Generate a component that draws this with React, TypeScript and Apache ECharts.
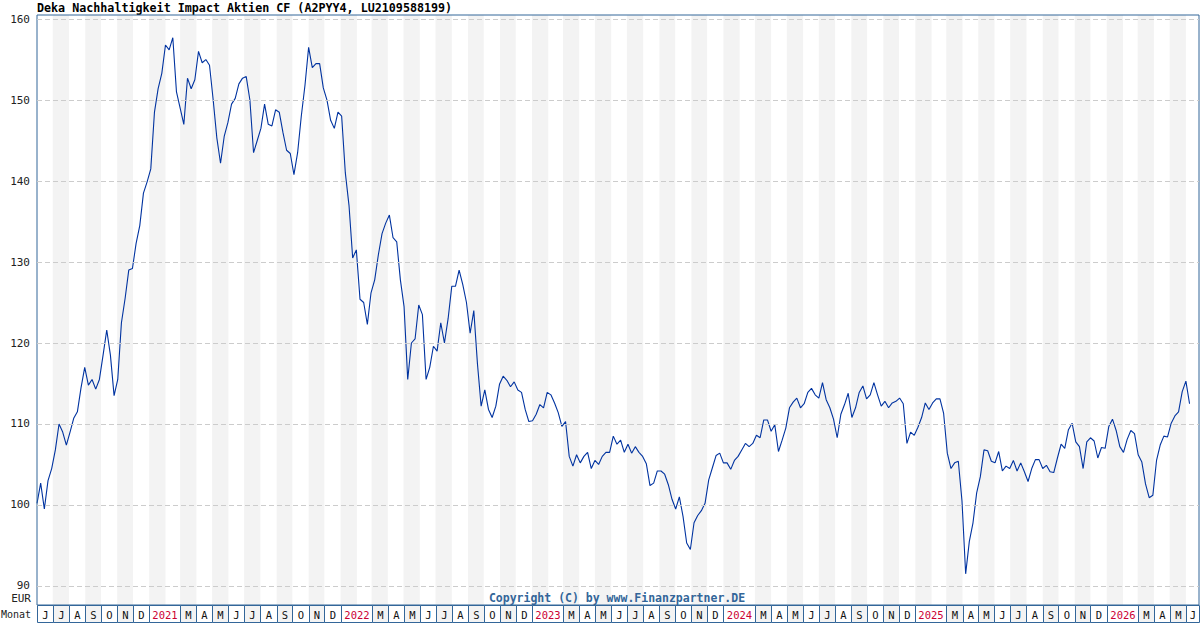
import React, { useEffect, useRef } from 'react';
import * as echarts from 'echarts';

const TITLE = 'Deka Nachhaltigkeit Impact Aktien CF (A2PYY4, LU2109588199)';
const COPYRIGHT = 'Copyright (C) by www.Finanzpartner.DE';
const CURRENCY = 'EUR';
const ROW_LABEL = 'Monat';

// first week of the series and end of the visible time range
const START = [2020, 5, 1];
const AXIS_END = [2026, 5, 26];

const MONTH_LETTERS = ['J', 'F', 'M', 'A', 'M', 'J', 'J', 'A', 'S', 'O', 'N', 'D'];
const Y_TICKS = [90, 100, 110, 120, 130, 140, 150, 160];

// weekly closing prices (EUR), one value per week from START
const WEEKLY_VALUES = [
  100.2, 102.7, 99.5, 103, 104.5, 106.8, 110, 109, 107.4, 109,
  110.7, 111.5, 114.5, 117, 114.8, 115.5, 114.3, 115.5, 118.5, 121.6,
  118.5, 113.5, 115.5, 122.5, 125.5, 129, 129.2, 132.3, 134.5, 138.5,
  139.9, 141.5, 148.5, 151.4, 153.3, 156.8, 156.2, 157.7, 151, 149,
  147, 152.7, 151.4, 152.5, 156, 154.6, 155, 154.3, 150, 145.3,
  142.2, 145.5, 147.2, 149.5, 150.2,
  152, 152.7, 152.9, 150, 143.5, 145, 146.5, 149.5, 147, 146.8,
  148.8, 148.5, 146, 143.8, 143.4, 140.8, 143.5, 148, 151.8, 156.5,
  154, 154.5, 154.5, 151.5, 150, 147.5, 146.5, 148.5, 148, 141,
  137, 130.5, 131.5, 125.4, 125, 122.3, 126.2, 127.8, 130.9, 133.5,
  134.8, 135.8, 133, 132.5, 127.8, 124.5, 115.5, 120, 120.5, 124.7,
  123.5, 115.5,
  117, 119.6, 119, 122.5, 120, 123, 127, 127, 129, 127.2,
  125, 121.2, 124, 117.4, 112.2, 114.2, 111.8, 110.8, 112.2, 114.9,
  115.9, 115.4, 114.6, 115.2, 114.2, 113.9, 111.8, 110.3, 110.4, 111.2,
  112.4, 112, 113.9, 113.6, 112.6, 111.4, 109.7, 110.3,
  106, 104.8, 106.2, 105.2, 106, 106.5, 104.5, 105.5, 105, 106, 106.5, 106.5, 108.5, 107.5,
  108, 106.5, 107.5, 106.4, 107.2, 106.5, 106, 105.1, 102.4, 102.7,
  104.2, 104.2, 103.8, 102.5, 100.7, 99.5, 101, 98.6, 95.3, 94.5,
  97.8, 98.7, 99.3, 100.2, 103.1, 104.6, 106.1, 106.4, 105.2, 105.2,
  104.4, 105.5, 106, 106.8, 107.6, 107.2, 107.6, 108.6, 108.3, 110.5,
  110.5, 109.1, 109.9, 106.6, 108, 109.5, 112, 112.7, 113.2, 112,
  112.5, 113.9, 114.4, 113.6, 113.2,
  115.1, 113, 112, 110.6, 108.3, 111.2, 112.4, 113.8, 110.8, 112,
  113.9, 114.7, 113.1, 113.6, 115.1, 113.6, 112.2, 112.8, 112, 112.6,
  112.8, 113.2, 112.5, 107.6, 109, 108.6, 109.6, 110.8, 112.6, 111.8,
  112.6, 113.1, 113.1, 111.3, 106.4, 104.5, 105.2, 105.4, 100.5, 91.5,
  95.5, 97.8, 101.5, 103.5, 106.8, 106.7, 105.4, 105.2, 106.6, 104.2, 104.8, 104.5, 105.5,
  104.2, 105.2, 104.1, 102.9, 104.5, 105.6, 105.6, 104.5, 104.9, 104.1,
  104, 105.8, 107.5, 107, 109.3, 110.1, 107.8, 107.2, 104.5, 107.8,
  108.3, 107.9, 105.8, 107.1, 107, 109.7, 110.6, 109.2, 107.2, 106.5,
  108.1, 109.2, 108.8, 106.2, 105.3, 102.6, 100.9, 101.2, 105.5, 107.4,
  108.5, 108.4, 110.1, 111, 111.5, 114, 115.3, 112.5,
];

const DAY = 86400000;
const startT = Date.UTC(START[0], START[1], START[2]);
const endT = Date.UTC(AXIS_END[0], AXIS_END[1], AXIS_END[2]);

const seriesData = WEEKLY_VALUES.map((v, i) => [startT + i * 7 * DAY, v]);

// month cells for the bottom row (Jan+Feb merged into the year cell)
type Cell = { s: number; e: number; label: string; year: boolean; shaded: boolean };
const cells: Cell[] = [];
const stripes: any[] = [];
{
  let y = START[0];
  let m = START[1];
  while (Date.UTC(y, m, 1) < endT) {
    const s = Date.UTC(y, m, 1);
    const e = Date.UTC(y, m + 1, 1);
    if (m % 2 === 0) stripes.push([{ xAxis: s }, { xAxis: Math.min(e, endT) }]);
    if (m === 0) {
      cells.push({ s, e: Date.UTC(y, 2, 1), label: String(y), year: true, shaded: false });
    } else if (m !== 1) {
      cells.push({ s, e, label: MONTH_LETTERS[m], year: false, shaded: m % 2 === 0 });
    }
    m++;
    if (m > 11) { m = 0; y++; }
  }
}

export default function App() {
  const ref = useRef<HTMLDivElement>(null);
  useEffect(() => {
    if (!ref.current) return;
    const chart = echarts.init(ref.current, undefined, { renderer: 'svg' });
    const mono = '"DejaVu Sans Mono", monospace';
    chart.setOption({
      animation: false,
      backgroundColor: '#ffffff',
      grid: {
        left: 37, top: 15, right: 1, bottom: 25,
        show: true, borderColor: '#336699', borderWidth: 1, backgroundColor: 'transparent', z: 5,
      },
      xAxis: {
        type: 'time',
        min: startT,
        max: endT,
        axisLine: { show: false },
        axisTick: { show: false },
        axisLabel: { show: false },
        splitLine: { show: false },
      },
      yAxis: {
        type: 'value',
        min: 87.65,
        max: 160.5,
        splitNumber: 7,
        axisLine: { show: false },
        axisTick: { show: false },
        splitLine: { show: false },
        axisLabel: {
          showMinLabel: false,
          showMaxLabel: false,
          margin: 7,
          color: '#222',
          fontFamily: mono,
          fontSize: 11,
          formatter: (v: number) => (Y_TICKS.includes(Math.round(v * 1000) / 1000) ? String(v) : ''),
        },
      },
      graphic: [
        { type: 'text', left: 37, top: 2, style: { text: TITLE, font: `bold 11.7px ${mono}`, fill: '#000' } },
        { type: 'text', style: { text: CURRENCY, x: 31, y: 598, align: 'right', verticalAlign: 'middle', font: `11px ${mono}`, fill: '#222' } },
        { type: 'text', style: { text: ROW_LABEL, x: 31, y: 614, align: 'right', verticalAlign: 'middle', font: `10px ${mono}`, fill: '#222' } },
        { type: 'text', z: 10, style: { text: COPYRIGHT, x: 617, y: 598, align: 'center', verticalAlign: 'middle', font: `bold 11.5px ${mono}`, fill: '#336699' } },
      ],
      series: [
        {
          type: 'line',
          z: 1,
          silent: true,
          data: seriesData,
          showSymbol: false,
          lineStyle: { opacity: 0 },
          markArea: {
            silent: true,
            itemStyle: { color: '#f3f3f3' },
            data: stripes,
          },
          markLine: {
            silent: true,
            symbol: 'none',
            label: { show: false },
            lineStyle: { color: '#cccccc', type: [5, 3], width: 1 },
            data: Y_TICKS.map((v) => ({ yAxis: v })),
          },
        },
        {
          type: 'line',
          z: 3,
          data: seriesData,
          showSymbol: false,
          symbol: 'none',
          lineStyle: { color: '#0033a0', width: 1.1 },
        },
        {
          type: 'custom',
          z: 6,
          silent: true,
          encode: { x: [0, 1], y: 2 },
          data: cells.map((c) => [c.s, c.e, 100]),
          renderItem: (params: any, api: any) => {
            const c = cells[params.dataIndex];
            const cs = params.coordSys;
            const left = cs.x;
            const right = cs.x + cs.width;
            let x0 = api.coord([c.s, 100])[0];
            let x1 = api.coord([c.e, 100])[0];
            x0 = Math.max(left, x0);
            x1 = Math.min(right, x1);
            x0 = Math.round(x0) + 0.5;
            x1 = Math.round(x1) + 0.5;
            const top = Math.round(cs.y + cs.height) + 0.5;
            return {
              type: 'group',
              children: [
                {
                  type: 'rect',
                  shape: { x: x0, y: top, width: x1 - x0, height: 17 },
                  style: { fill: c.shaded ? '#f3f3f3' : '#ffffff', stroke: '#336699', lineWidth: 1 },
                },
                {
                  type: 'text',
                  style: {
                    text: c.label,
                    x: (x0 + x1) / 2,
                    y: top + 9,
                    align: 'center',
                    verticalAlign: 'middle',
                    font: `10.5px ${mono}`,
                    fill: c.year ? '#cc0033' : '#111',
                  },
                },
              ],
            };
          },
        },
      ],
    });
    return () => chart.dispose();
  }, []);
  return (
    <div
      ref={ref}
      style={{ position: 'fixed', left: 0, top: 0, width: 1200, height: 630, background: '#fff' }}
    />
  );
}
